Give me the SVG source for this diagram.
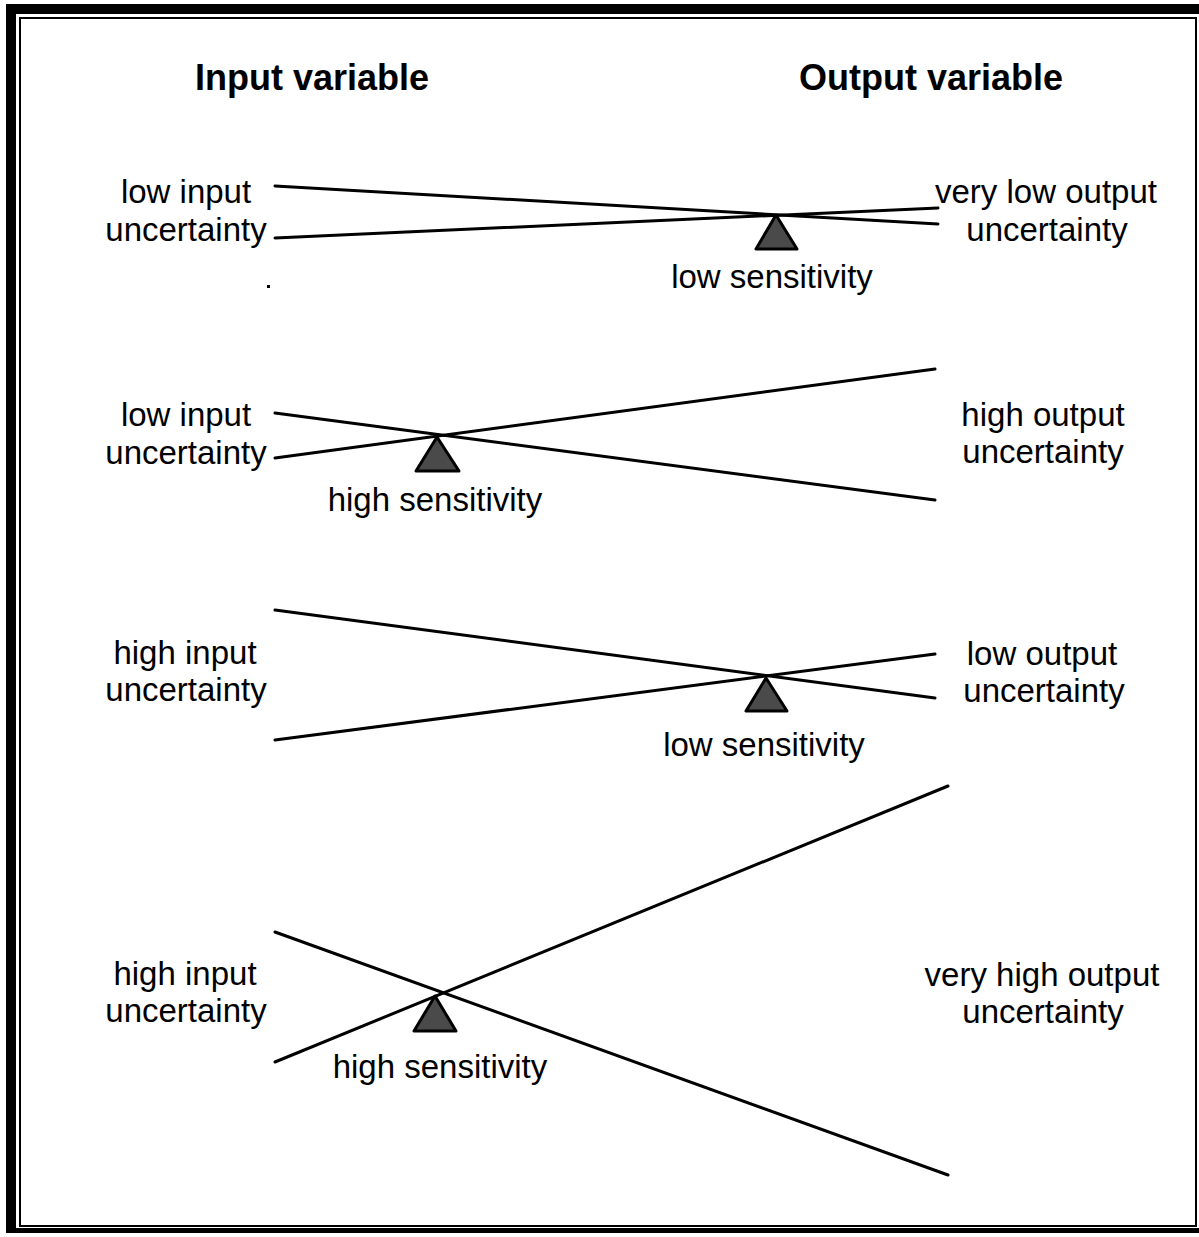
<svg xmlns="http://www.w3.org/2000/svg" width="1199" height="1237" viewBox="0 0 1199 1237">
  <style>
    .lbl { font-family: "Liberation Sans", Arial, sans-serif; font-size: 33px; fill: #000; text-anchor: middle; }
    .head { font-family: "Liberation Sans", Arial, sans-serif; font-size: 36px; font-weight: bold; fill: #000; text-anchor: middle; }
    .beam { stroke: #000; stroke-width: 3; fill: none; stroke-linecap: round; }
    .pivot { fill: #4a4a4a; stroke: #000; stroke-width: 3; stroke-linejoin: round; }
  </style>
  <rect width="1199" height="1237" fill="#fff"/>

  <!-- double frame -->
  <g id="frame">
    <path d="M11,1231 V9 H1205" fill="none" stroke="#000" stroke-width="10"/>
    <path d="M6,1230.5 H1205" stroke="#000" stroke-width="5"/>
    <rect x="20" y="18" width="1176" height="1208" fill="none" stroke="#000" stroke-width="2"/>
  </g>

  <!-- column headings -->
  <g id="headings">
    <text class="head" x="312" y="90">Input variable</text>
    <text class="head" x="931" y="90">Output variable</text>
  </g>

  <!-- lever beams -->
  <g id="connectors">
    <line class="beam" x1="275" y1="186" x2="938" y2="224"/>
    <line class="beam" x1="275" y1="238" x2="938" y2="208"/>
    <line class="beam" x1="275" y1="413" x2="935" y2="500"/>
    <line class="beam" x1="275" y1="458" x2="935" y2="369"/>
    <line class="beam" x1="275" y1="610" x2="935" y2="698"/>
    <line class="beam" x1="275" y1="740" x2="935" y2="654"/>
    <line class="beam" x1="275" y1="932" x2="948" y2="1175"/>
    <line class="beam" x1="275" y1="1062" x2="948" y2="786"/>
  </g>

  <!-- row 1: low input, low sensitivity -->
  <g id="row1">
    <text class="lbl" x="186" y="203">low input</text>
    <text class="lbl" x="186" y="241">uncertainty</text>
    <rect x="267" y="285" width="3" height="3" fill="#000"/>
    <polygon class="pivot" points="776,215 756,249 797,249"/>
    <text class="lbl" x="772" y="288">low sensitivity</text>
    <text class="lbl" x="1046" y="203">very low output</text>
    <text class="lbl" x="1047" y="241">uncertainty</text>
  </g>

  <!-- row 2: low input, high sensitivity -->
  <g id="row2">
    <text class="lbl" x="186" y="426">low input</text>
    <text class="lbl" x="186" y="464">uncertainty</text>
    <polygon class="pivot" points="437,437 416,471 459,471"/>
    <text class="lbl" x="435" y="511">high sensitivity</text>
    <text class="lbl" x="1043" y="426">high output</text>
    <text class="lbl" x="1043" y="463">uncertainty</text>
  </g>

  <!-- row 3: high input, low sensitivity -->
  <g id="row3">
    <text class="lbl" x="185" y="664">high input</text>
    <text class="lbl" x="186" y="701">uncertainty</text>
    <polygon class="pivot" points="766,678 746,711 787,711"/>
    <text class="lbl" x="764" y="756">low sensitivity</text>
    <text class="lbl" x="1042" y="665">low output</text>
    <text class="lbl" x="1044" y="702">uncertainty</text>
  </g>

  <!-- row 4: high input, high sensitivity -->
  <g id="row4">
    <text class="lbl" x="185" y="985">high input</text>
    <text class="lbl" x="186" y="1022">uncertainty</text>
    <polygon class="pivot" points="435,996 414,1031 456,1031"/>
    <text class="lbl" x="440" y="1078">high sensitivity</text>
    <text class="lbl" x="1042" y="986">very high output</text>
    <text class="lbl" x="1043" y="1023">uncertainty</text>
  </g>
</svg>
